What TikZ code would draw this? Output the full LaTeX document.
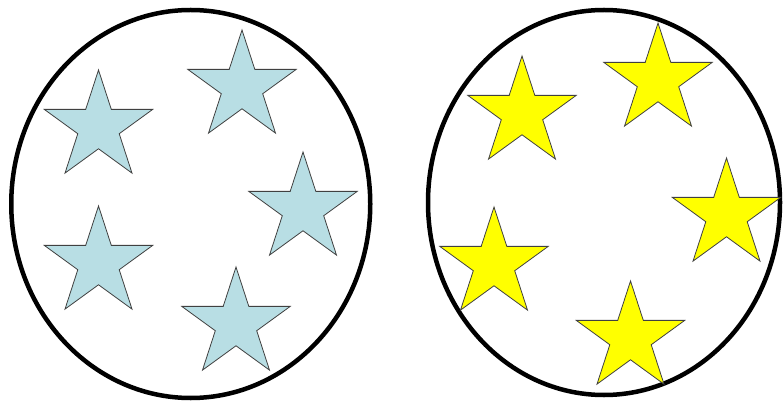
\documentclass[tikz,border=0pt]{standalone}
\usetikzlibrary{shapes.geometric}

\definecolor{paleblue}{RGB}{184,222,228}
\definecolor{brightyellow}{RGB}{255,255,0}

\tikzset{
  oval/.style={draw=black, line width=4.5pt},
  starshape/.style={star, star points=5, star point ratio=2.618,
    minimum size=114, inner sep=0pt, draw=black!75, line width=0.8pt},
  bluestar/.style={starshape, fill=paleblue},
  yellowstar/.style={starshape, fill=brightyellow}
}

\begin{document}
\begin{tikzpicture}[x=1pt, y=-1pt]
  \useasboundingbox (0,0) rectangle (783,403);

  % Ovals
  \draw[oval] (190.75,204) ellipse [x radius=179.5, y radius=194];
  \draw[oval] (604,202.5) ellipse [x radius=176, y radius=192.5];

  % Left oval
  \node[bluestar] (b1) at (98.5,127) {};  \node[bluestar] (b2) at (242,87) {};
  \node[bluestar] (b3) at (303,209) {};
  \node[bluestar] (b4) at (98.5,263) {};  \node[bluestar] (b5) at (236,324) {};

  % Right oval
  \node[yellowstar] (y1) at (522,113) {};  \node[yellowstar] (y2) at (658,80) {};
  \node[yellowstar] (y3) at (726.5,215) {};
  \node[yellowstar] (y4) at (494,264) {};  \node[yellowstar] (y5) at (630.5,338) {};
\end{tikzpicture}
\end{document}
